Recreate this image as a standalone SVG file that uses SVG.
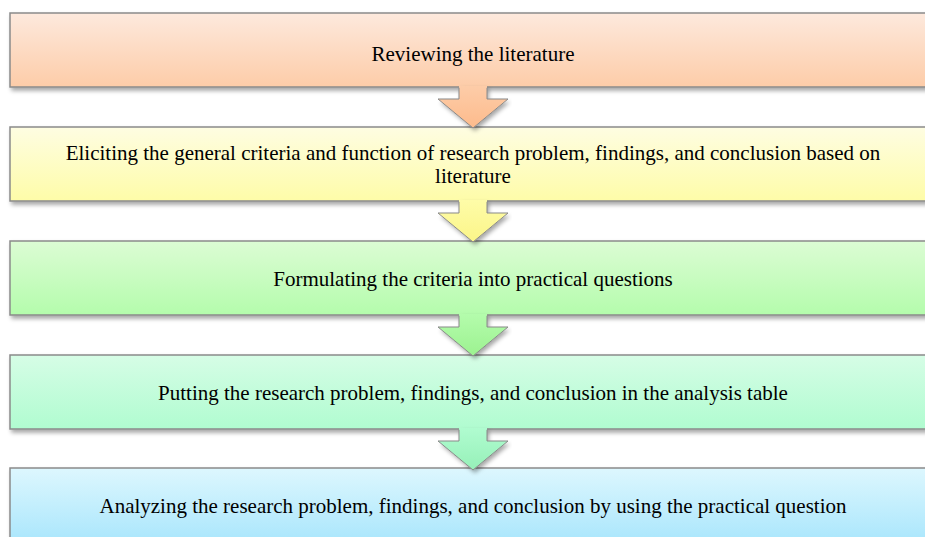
<svg xmlns="http://www.w3.org/2000/svg" width="925" height="537" viewBox="0 0 925 537">
  <defs>
    <linearGradient id="g1" x1="0" y1="0" x2="0" y2="1">
      <stop offset="0" stop-color="#fde9dd"/>
      <stop offset="1" stop-color="#fdcca8"/>
    </linearGradient>
    <linearGradient id="g2" x1="0" y1="0" x2="0" y2="1">
      <stop offset="0" stop-color="#fefde2"/>
      <stop offset="1" stop-color="#fefca8"/>
    </linearGradient>
    <linearGradient id="g3" x1="0" y1="0" x2="0" y2="1">
      <stop offset="0" stop-color="#dcfcd4"/>
      <stop offset="1" stop-color="#b4fcac"/>
    </linearGradient>
    <linearGradient id="g4" x1="0" y1="0" x2="0" y2="1">
      <stop offset="0" stop-color="#d6fde6"/>
      <stop offset="1" stop-color="#b0fcd0"/>
    </linearGradient>
    <linearGradient id="g5" x1="0" y1="0" x2="0" y2="1">
      <stop offset="0" stop-color="#ddf7fe"/>
      <stop offset="1" stop-color="#a6e5fc"/>
    </linearGradient>
    <linearGradient id="a1" x1="0" y1="0" x2="0" y2="1">
      <stop offset="0" stop-color="#fdcca8"/>
      <stop offset="1" stop-color="#fdbb8c"/>
    </linearGradient>
    <linearGradient id="a2" x1="0" y1="0" x2="0" y2="1">
      <stop offset="0" stop-color="#fefca8"/>
      <stop offset="1" stop-color="#fbf588"/>
    </linearGradient>
    <linearGradient id="a3" x1="0" y1="0" x2="0" y2="1">
      <stop offset="0" stop-color="#b4fcac"/>
      <stop offset="1" stop-color="#9cf290"/>
    </linearGradient>
    <linearGradient id="a4" x1="0" y1="0" x2="0" y2="1">
      <stop offset="0" stop-color="#b0fcd0"/>
      <stop offset="1" stop-color="#96f0b8"/>
    </linearGradient>
    <filter id="shadow" x="-5%" y="-20%" width="110%" height="150%">
      <feDropShadow dx="2" dy="3" stdDeviation="2" flood-color="#000" flood-opacity="0.35"/>
    </filter>
    <path id="arrowShape" d="M -14 -1 L -14 12 L -35 12 L 0 41 L 35 12 L 14 12 L 14 -1 Z"/>
  </defs>
  <style>
    .box { stroke: #8a8a8a; stroke-width: 1.5; filter: url(#shadow); }
    .label { font-family: "Liberation Serif", "Times New Roman", serif; font-size: 21px; fill: #000; text-anchor: middle; }
    .arrow-edge { fill: none; stroke: #8a8a8a; stroke-width: 1; }
  </style>

  <g id="step1">
    <rect class="box" x="10" y="13" width="930" height="74" fill="url(#g1)"/>
    <text class="label" x="473" y="61">Reviewing the literature</text>
  </g>

  <g id="step2">
    <rect class="box" x="10" y="127" width="930" height="74" fill="url(#g2)"/>
    <text class="label" x="473" y="160">Eliciting the general criteria and function of research problem, findings, and conclusion based on</text>
    <text class="label" x="473" y="183">literature</text>
  </g>

  <g id="step3">
    <rect class="box" x="10" y="241" width="930" height="74" fill="url(#g3)"/>
    <text class="label" x="473" y="286">Formulating the criteria into practical questions</text>
  </g>

  <g id="step4">
    <rect class="box" x="10" y="355" width="930" height="74" fill="url(#g4)"/>
    <text class="label" x="473" y="400">Putting the research problem, findings, and conclusion in the analysis table</text>
  </g>

  <g id="step5">
    <rect class="box" x="10" y="468" width="930" height="80" fill="url(#g5)"/>
    <text class="label" x="473" y="513">Analyzing the research problem, findings, and conclusion by using the practical question</text>
  </g>

  <g id="connectors">
    <g transform="translate(473 87)">
      <use href="#arrowShape" fill="url(#a1)" filter="url(#shadow)"/>
      <path class="arrow-edge" d="M -14 0.8 L -14 12 L -35 12 L 0 41 L 35 12 L 14 12 L 14 0.8"/>
    </g>
    <g transform="translate(473 201)">
      <use href="#arrowShape" fill="url(#a2)" filter="url(#shadow)"/>
      <path class="arrow-edge" d="M -14 0.8 L -14 12 L -35 12 L 0 41 L 35 12 L 14 12 L 14 0.8"/>
    </g>
    <g transform="translate(473 315)">
      <use href="#arrowShape" fill="url(#a3)" filter="url(#shadow)"/>
      <path class="arrow-edge" d="M -14 0.8 L -14 12 L -35 12 L 0 41 L 35 12 L 14 12 L 14 0.8"/>
    </g>
    <g transform="translate(473 429)">
      <use href="#arrowShape" fill="url(#a4)" filter="url(#shadow)"/>
      <path class="arrow-edge" d="M -14 0.8 L -14 12 L -35 12 L 0 41 L 35 12 L 14 12 L 14 0.8"/>
    </g>
  </g>
</svg>
